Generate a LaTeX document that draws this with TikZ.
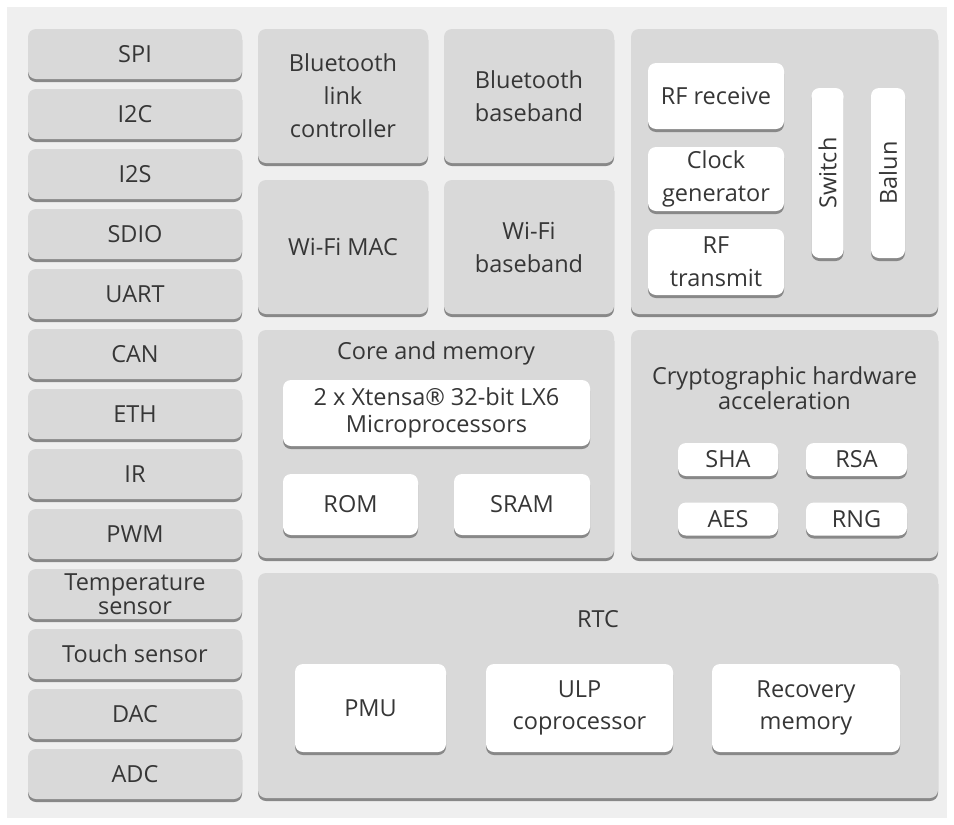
\documentclass[tikz,border=0pt]{standalone}
\usepackage{fontspec}
\setmainfont{Open Sans}
\usetikzlibrary{shadows}
\definecolor{bgc}{HTML}{EFEFEF}
\definecolor{blk}{HTML}{D9D9D9}
\definecolor{shd}{HTML}{888888}
\definecolor{txt}{HTML}{363636}
\begin{document}
\begin{tikzpicture}[x=1pt,y=-1pt,
  base/.style={rounded corners=8pt, inner sep=0pt, align=center, text=txt,
    font=\fontsize{23.5}{26}\selectfont,
    drop shadow={shadow xshift=0pt, shadow yshift=-3pt, fill=shd, opacity=1}},
  gbox/.style={base, fill=blk},
  wbox/.style={base, fill=white},
  lbox/.style={gbox, minimum width=214pt, minimum height=50pt},
  ttl/.style={inner sep=0pt, align=center, text=txt, font=\fontsize{23.5}{26}\selectfont},
]
\useasboundingbox (0,0) rectangle (954,825);
\fill[white] (0,0) rectangle (954,825);
\fill[bgc] (7,7) rectangle (947,818);

% left column
\node[lbox] (spi)  at (135,54)  {SPI};
\node[lbox] (i2c)  at (135,114) {I2C};
\node[lbox] (i2s)  at (135,174) {I2S};
\node[lbox] (sdio) at (135,234) {SDIO};
\node[lbox] (uart) at (135,294) {UART};
\node[lbox] (can)  at (135,354) {CAN};
\node[lbox] (eth)  at (135,414) {ETH};
\node[lbox] (ir)   at (135,474) {IR};
\node[lbox] (pwm)  at (135,534) {PWM};
\node[lbox, font=\fontsize{23.5}{24}\selectfont] (temp) at (135,594) {Temperature\\sensor};
\node[lbox] (touch) at (135,654) {Touch sensor};
\node[lbox] (dac)  at (135,714) {DAC};
\node[lbox] (adc)  at (135,774) {ADC};

% bluetooth / wifi
\node[gbox, minimum width=170pt, minimum height=134pt, font=\fontsize{23.5}{33}\selectfont] (btlc) at (343,96) {Bluetooth\\link\\controller};
\node[gbox, minimum width=170pt, minimum height=134pt, font=\fontsize{23.5}{33}\selectfont] (btbb) at (529,96) {Bluetooth\\baseband};
\node[gbox, minimum width=170pt, minimum height=134pt] (wmac) at (343,247) {Wi-Fi MAC};
\node[gbox, minimum width=170pt, minimum height=134pt, font=\fontsize{23.5}{33}\selectfont] (wbb) at (529,247) {Wi-Fi\\baseband};

% RF block
\node[gbox, minimum width=307pt, minimum height=285pt] (rf) at (784.5,171.5) {};
\node[wbox, minimum width=136pt, minimum height=66pt] (rfrx) at (716,96) {RF receive};
\node[wbox, minimum width=136pt, minimum height=64pt, font=\fontsize{23.5}{33}\selectfont] (clk) at (716,179) {Clock\\generator};
\node[wbox, minimum width=136pt, minimum height=66pt, font=\fontsize{23.5}{33}\selectfont] (rftx) at (716,262) {RF\\transmit};
\node[wbox, minimum width=32pt, minimum height=170pt] (sw) at (827.5,173) {};
\node[ttl, rotate=90] (swt) at (sw) {Switch};
\node[wbox, minimum width=34pt, minimum height=170pt] (bal) at (888,173) {};
\node[ttl, rotate=90] (balt) at (bal) {Balun};

% core and memory
\node[gbox, minimum width=356pt, minimum height=228pt] (core) at (436,444) {};
\node[ttl] (coret) at (436,353) {Core and memory};
\node[wbox, minimum width=307pt, minimum height=66pt, font=\fontsize{23.5}{27}\selectfont] (cpu) at (436.5,413) {2 x Xtensa® 32-bit LX6\\Microprocessors};
\node[wbox, minimum width=135pt, minimum height=61pt] (rom) at (350.5,504.5) {ROM};
\node[wbox, minimum width=136pt, minimum height=61pt] (sram) at (522,504.5) {SRAM};

% crypto
\node[gbox, minimum width=307pt, minimum height=228pt] (cry) at (784.5,444) {};
\node[ttl, font=\fontsize{23.5}{25}\selectfont] (cryt) at (784.5,388) {Cryptographic hardware\\acceleration};
\node[wbox, minimum width=100pt, minimum height=33pt] (sha) at (728,459.5) {SHA};
\node[wbox, minimum width=101pt, minimum height=33pt] (rsa) at (856.5,459.5) {RSA};
\node[wbox, minimum width=100pt, minimum height=33pt] (aes) at (728,519) {AES};
\node[wbox, minimum width=101pt, minimum height=33pt] (rng) at (856.5,519) {RNG};

% RTC
\node[gbox, minimum width=680pt, minimum height=225pt] (rtc) at (598,685.5) {};
\node[ttl] (rtct) at (598,619) {RTC};
\node[wbox, minimum width=151pt, minimum height=88pt] (pmu) at (370.5,708) {PMU};
\node[wbox, minimum width=187pt, minimum height=88pt, font=\fontsize{23.5}{32}\selectfont] (ulp) at (579.5,708) {ULP\\coprocessor};
\node[wbox, minimum width=188pt, minimum height=88pt, font=\fontsize{23.5}{32}\selectfont] (rec) at (806,708) {Recovery\\memory};
\end{tikzpicture}
\end{document}
